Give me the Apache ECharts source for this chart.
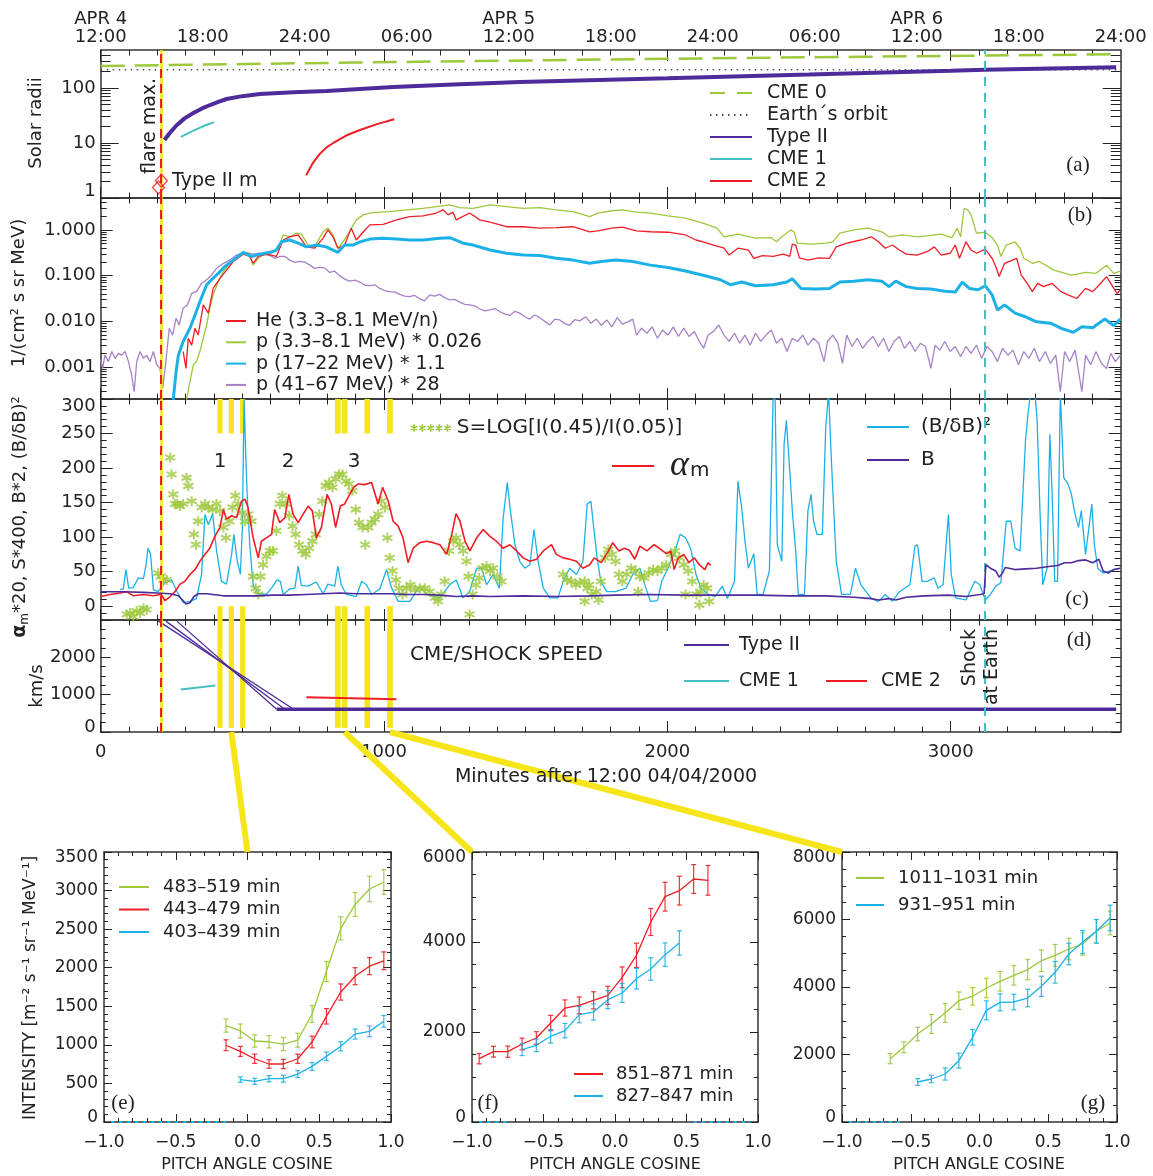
<!DOCTYPE html>
<html>
<head>
<meta charset="utf-8">
<script src="https://cdn.jsdelivr.net/npm/echarts@6/dist/echarts.min.js"></script>
<style>html,body{margin:0;background:#fff}#show{width:1153px;height:1176px}</style>
</head>
<body>
<div id="show"></div>
<script>
var myChart = echarts.init(document.getElementById('show'));

// ---------- panel (a): distance in solar radii vs minutes ----------
var cme0R = [[0, 251], [900, 290], [1800, 330], [2700, 370], [3600, 410]];
var earthR = [[0, 215], [3600, 215]];
var typeIIR = [[225, 11.3], [243, 15], [268, 21], [296, 28], [327, 35], [356, 42], [386, 49], [415, 56], [444, 63], [500, 71], [562, 78], [680, 84], [798, 88], [915, 96], [1033, 104], [1245, 116], [1480, 129], [2000, 150], [2500, 175], [3000, 205], [3121, 215], [3584, 237]];
var cme1R = [[283, 12.9], [311, 15.3], [339, 17.9], [370, 21], [400, 24]];
var cme2R = [[725, 2.6], [750, 4.4], [774, 6.4], [797, 8.3], [821, 10], [868, 13.8], [915, 17.2], [975, 22], [1036, 27]];
var typeIIm = [[214, 2.06], [204, 1.55]];

// ---------- panel (b): log10 of intensity ----------
var heLog = [[291,-2.66],[301,-3.03],[309,-2.37],[321,-2.52],[333,-2.15],[344,-2.30],[362,-1.64],[380,-1.82],[397,-1.28],[421,-1.06],[444,-0.88],[468,-0.69],[503,-0.53],[526,-0.58],[538,-0.73],[556,-0.58],[585,-0.53],[620,-0.58],[644,-0.22],[667,-0.15],[697,-0.11],[726,-0.37],[755,-0.40],[785,-0.18],[802,0.0],[820,-0.15],[837,-0.40],[861,-0.33],[884,0.04],[902,-0.22],[927,-0.04],[950,0.11],[997,0.12],[1044,0.22],[1091,0.29],[1138,0.31],[1185,0.37],[1208,0.44],[1226,0.33],[1243,0.39],[1255,0.22],[1302,0.37],[1338,0.22],[1374,0.17],[1432,0.07],[1491,0.07],[1550,0.04],[1608,0.05],[1667,0.07],[1726,-0.04],
  [1755,-0.02],[1804,0.04],[1841,0.06],[1891,-0.02],[1940,-0.04],[2002,-0.05],[2064,-0.11],[2101,-0.22],[2126,-0.26],[2163,-0.33],[2200,-0.40],[2218,-0.55],[2249,-0.40],[2286,-0.44],[2305,-0.62],[2336,-0.56],[2373,-0.58],[2410,-0.53],[2432,-0.58],[2441,-0.31],[2453,-0.33],[2466,-0.61],[2497,-0.66],[2534,-0.61],[2572,-0.62],[2596,-0.37],[2633,-0.29],[2683,-0.22],[2720,-0.15],[2745,-0.26],[2769,-0.40],[2794,-0.33],[2819,-0.44],[2843,-0.53],[2881,-0.55],[2918,-0.47],[2942,-0.37],[2967,-0.55],[2998,-0.51],[3016,-0.33],[3031,-0.62],[3054,-0.26],[3072,-0.44],[3091,-0.51],[3122,-0.42],[3146,-0.62],[3159,-0.80],[3171,-1.02],[3190,-0.73],[3233,-0.62],[3249,-0.99],[3270,-1.17],[3288,-1.35],[3307,-1.17],[3327,-1.24],[3358,-1.17],[3389,-1.35],[3414,-1.42],[3445,-1.50],[3476,-1.28],[3501,-1.35],[3525,-1.20],[3550,-1.02],[3568,-1.20],[3587,-1.39],[3599,-1.31]];
var p3Log = [[303,-3.72],[315,-3.32],[327,-2.95],[338,-2.88],[350,-2.66],[362,-2.37],[374,-2.08],[385,-1.71],[397,-1.42],[415,-1.13],[433,-0.91],[456,-0.73],[479,-0.62],[503,-0.51],[520,-0.49],[538,-0.77],[556,-0.62],[573,-0.55],[603,-0.51],[626,-0.40],[644,-0.11],[667,-0.15],[691,-0.07],[708,-0.09],[732,-0.33],[755,-0.37],[785,-0.04],[802,0.04],[820,-0.11],[837,-0.40],[855,-0.26],[878,-0.04],[902,0.22],[927,0.33],[950,0.37],[985,0.39],[1020,0.40],[1079,0.44],[1138,0.47],[1185,0.51],[1232,0.55],[1267,0.49],[1314,0.47],[1374,0.55],[1432,0.51],[1491,0.47],[1550,0.49],[1608,0.44],[1667,0.40],[1726,0.29],
  [1755,0.37],[1804,0.42],[1841,0.44],[1891,0.39],[1940,0.37],[2002,0.31],[2064,0.26],[2126,0.15],[2175,0.04],[2200,-0.15],[2249,-0.09],[2311,-0.18],[2367,-0.17],[2385,-0.26],[2404,-0.15],[2435,0.0],[2447,-0.04],[2459,-0.29],[2509,-0.31],[2559,-0.29],[2584,-0.26],[2609,-0.07],[2658,0.0],[2708,0.04],[2757,-0.04],[2782,-0.15],[2831,-0.11],[2881,-0.15],[2930,-0.12],[2967,-0.09],[3004,-0.17],[3023,0.04],[3035,-0.15],[3047,0.47],[3060,0.44],[3072,0.33],[3091,-0.07],[3122,-0.05],[3146,-0.17],[3165,-0.33],[3177,-0.58],[3196,-0.33],[3227,-0.26],[3245,-0.40],[3258,-0.62],[3288,-0.73],[3313,-0.69],[3364,-0.88],[3426,-0.99],[3476,-0.93],[3513,-0.95],[3550,-0.77],[3575,-0.95],[3599,-0.90]];
var p17Log = [[256,-3.72],[266,-3.10],[274,-2.74],[291,-2.44],[315,-2.15],[333,-1.86],[350,-1.57],[374,-1.20],[391,-1.09],[415,-0.95],[438,-0.80],[468,-0.66],[503,-0.49],[532,-0.58],[562,-0.53],[597,-0.49],[620,-0.44],[638,-0.26],[667,-0.22],[697,-0.29],[726,-0.37],[761,-0.33],[796,-0.37],[837,-0.49],[861,-0.33],[890,-0.33],[915,-0.26],[950,-0.20],[997,-0.18],[1044,-0.20],[1091,-0.22],[1138,-0.22],[1196,-0.18],[1232,-0.17],[1279,-0.29],[1314,-0.33],[1374,-0.44],[1432,-0.51],[1491,-0.55],[1550,-0.56],[1608,-0.62],[1667,-0.66],[1726,-0.73],
  [1767,-0.69],[1817,-0.66],[1878,-0.69],[1940,-0.77],[2002,-0.82],[2064,-0.90],[2126,-0.99],[2187,-1.09],[2224,-1.20],[2262,-1.14],[2311,-1.22],[2373,-1.20],[2422,-1.14],[2441,-1.07],[2472,-1.28],[2521,-1.29],[2572,-1.28],[2609,-1.14],[2658,-1.12],[2708,-1.09],[2757,-1.12],[2782,-1.24],[2806,-1.12],[2843,-1.24],[2881,-1.28],[2930,-1.29],[2979,-1.34],[3016,-1.36],[3041,-1.14],[3066,-1.28],[3097,-1.31],[3122,-1.22],[3146,-1.42],[3165,-1.75],[3190,-1.64],[3227,-1.82],[3264,-1.90],[3303,-2.01],[3352,-2.04],[3389,-2.15],[3433,-2.24],[3463,-2.12],[3501,-2.14],[3544,-1.95],[3575,-2.09],[3599,-1.95]];
var p41Log = [[0,-2.84],[7,-3.03],[15,-2.74],[27,-2.88],[39,-2.66],[51,-2.81],[63,-2.70],[74,-2.74],[86,-2.66],[98,-2.88],[109,-3.17],[118,-3.54],[127,-2.88],[139,-2.66],[151,-2.81],[162,-2.74],[174,-2.88],[186,-2.66],[198,-2.95],[209,-3.03],[219,-3.46],[230,-2.88],[242,-2.15],[254,-2.30],[266,-1.93],[277,-2.08],[291,-1.71],[306,-1.64],[321,-1.39],[338,-1.35],[356,-1.17],[374,-1.09],[391,-0.99],[409,-0.84],[433,-0.73],[456,-0.66],[479,-0.55],[509,-0.49],[538,-0.53],[562,-0.51],[597,-0.56],[615,-0.62],[632,-0.58],[650,-0.58],[667,-0.66],[685,-0.71],[702,-0.69],[720,-0.70],[738,-0.77],[755,-0.84],[773,-0.82],[790,-0.83],[808,-0.93],[825,-0.90],[843,-1.00],[860,-1.07],[878,-1.12],[897,-1.10],[915,-1.14],[932,-1.21],[950,-1.22],[967,-1.20],[985,-1.28],[1003,-1.33],[1020,-1.35],[1038,-1.36],[1056,-1.41],[1073,-1.45],[1091,-1.46],[1108,-1.43],[1126,-1.51],[1143,-1.55],[1161,-1.42],[1178,-1.45],[1196,-1.41],[1214,-1.48],[1232,-1.53],[1249,-1.52],[1267,-1.58],[1285,-1.63],[1302,-1.64],[1320,-1.66],[1338,-1.73],[1356,-1.77],[1374,-1.75],[1391,-1.72],[1409,-1.79],[1427,-1.84],[1444,-1.87],[1462,-1.78],[1479,-1.82],[1497,-1.90],[1514,-1.95],[1532,-1.86],[1550,-1.92],[1567,-2.00],[1585,-2.08],[1603,-1.95],[1620,-1.97],[1638,-2.05],[1655,-2.09],[1673,-1.96],[1691,-1.99],
  [1712,-1.90],[1730,-2.04],[1749,-1.95],[1767,-2.09],[1786,-1.97],[1804,-2.12],[1823,-1.92],[1841,-2.06],[1860,-2.01],[1878,-1.95],[1891,-2.30],[1909,-2.15],[1928,-2.26],[1946,-2.12],[1965,-2.37],[1983,-2.19],[2002,-2.30],[2021,-2.12],[2039,-2.33],[2058,-2.15],[2076,-2.33],[2095,-2.22],[2113,-2.44],[2128,-2.59],[2144,-2.30],[2163,-2.22],[2181,-2.08],[2200,-2.30],[2218,-2.44],[2237,-2.26],[2255,-2.48],[2274,-2.30],[2292,-2.52],[2311,-2.26],[2330,-2.44],[2348,-2.30],[2367,-2.19],[2385,-2.48],[2404,-2.37],[2422,-2.66],[2441,-2.37],[2459,-2.44],[2478,-2.30],[2496,-2.52],[2516,-2.37],[2534,-2.48],[2553,-2.88],[2565,-2.44],[2584,-2.30],[2602,-2.48],[2618,-2.92],[2633,-2.30],[2652,-2.55],[2670,-2.37],[2689,-2.59],[2708,-2.44],[2726,-2.33],[2745,-2.55],[2763,-2.37],[2782,-2.66],[2800,-2.44],[2819,-2.33],[2837,-2.59],[2856,-2.44],[2874,-2.66],[2893,-2.48],[2911,-2.55],[2930,-3.03],[2945,-2.52],[2961,-2.63],[2979,-2.44],[2998,-2.66],[3016,-2.55],[3035,-2.77],[3054,-2.55],[3072,-2.70],[3091,-2.52],[3109,-2.81],[3128,-2.55],[3146,-2.66],[3165,-2.88],[3183,-2.59],[3202,-2.74],[3220,-2.63],[3239,-2.95],[3258,-2.66],[3276,-2.81],[3295,-2.59],[3313,-2.88],[3334,-2.66],[3352,-2.92],[3371,-2.74],[3387,-3.54],[3402,-2.66],[3420,-2.88],[3439,-2.63],[3463,-3.54],[3476,-2.74],[3494,-2.95],[3513,-2.66],[3532,-2.92],[3550,-3.03],[3565,-2.70],[3581,-2.88],[3599,-2.74]];

// ---------- panel (c) ----------
var alphaM = [[0,14],[33,17],[68,19],[92,21],[115,15],[151,17],[186,15],[213,17],[227,8],[245,14],[262,21],[280,32],[297,36],[315,46],[333,53],[350,65],[368,75],[385,84],[403,101],[421,114],[433,140],[444,126],[462,131],[479,128],[497,152],[509,155],[520,143],[538,99],[556,70],[567,94],[585,99],[603,104],[614,140],[632,121],[650,128],[664,162],[679,133],[697,121],[714,133],[732,145],[747,138],[761,99],[779,114],[799,162],[814,148],[829,114],[846,145],[861,148],[879,162],[893,172],[909,177],[932,176],[956,179],[979,148],[995,172],[1015,152],[1032,123],[1050,116],[1067,99],[1085,63],[1103,84],[1126,92],[1150,94],[1174,92],[1197,89],[1221,75],[1239,104],[1254,134],[1268,123],[1286,94],[1303,80],[1327,99],[1350,111],[1374,101],[1397,94],[1420,84],[1444,89],[1468,80],[1491,70],[1515,65],[1538,68],[1562,80],[1591,89],[1608,75],[1632,70],[1655,68],[1679,65],[1702,55],[1726,60],[1742,70],[1767,63],[1792,80],[1807,92],[1829,80],[1848,84],[1866,81],[1885,68],[1903,87],[1928,80],[1953,89],[1971,84],[1996,76],[2012,80],[2024,53],[2039,70],[2058,75],[2076,63],[2095,70],[2113,60],[2132,53],[2144,63],[2153,59]];
var sRatio = [[92,-12],[104,-10],[115,-15],[127,-7],[139,-10],[151,-3],[162,-5],[203,48],[212,43],[221,38],[233,38],[245,215],[250,191],[256,162],[262,148],[270,148],[280,145],[291,148],[303,186],[309,174],[321,152],[329,104],[336,89],[344,123],[356,143],[368,148],[380,143],[395,140],[409,148],[421,138],[433,114],[442,99],[454,123],[465,143],[475,160],[485,148],[497,135],[509,123],[520,133],[532,123],[538,43],[547,26],[556,17],[564,43],[573,60],[585,72],[597,80],[608,80],[620,109],[632,148],[641,160],[653,148],[665,131],[677,116],[688,104],[700,89],[712,80],[724,75],[735,84],[747,94],[759,104],[771,133],[782,152],[794,174],[806,179],[818,172],[829,184],[841,191],[853,191],[865,181],[876,177],[888,167],[900,140],[912,121],[924,114],[934,89],[944,114],[956,121],[968,126],[979,133],[991,152],[1003,143],[1012,99],[1020,70],[1030,51],[1042,38],[1053,26],[1065,17],[1079,26],[1093,31],[1109,24],[1126,26],[1144,26],[1161,21],[1179,12],[1191,7],[1202,17],[1214,36],[1229,80],[1244,94],[1255,99],[1267,89],[1279,80],[1291,65],[1298,43],[1302,-12],[1313,17],[1324,31],[1336,41],[1348,55],[1362,58],[1374,51],[1385,55],[1400,43],[1415,36],[1632,46],[1646,38],[1661,36],[1677,31],[1691,34],[1708,36],[1724,31],
  [1708,7],[1718,26],[1733,17],[1749,21],[1757,9],[1765,36],[1780,70],[1792,82],[1804,75],[1817,65],[1829,46],[1841,36],[1856,46],[1872,55],[1888,51],[1897,21],[1903,43],[1918,41],[1934,48],[1950,53],[1965,51],[1980,55],[1996,60],[2012,75],[2027,80],[2042,70],[2058,60],[2064,17],[2074,51],[2088,36],[2103,17],[2113,2],[2116,21],[2128,31],[2140,26],[2148,7]];
var bRatio = [[68,24],[80,25],[89,53],[99,26],[115,27],[133,41],[151,40],[160,60],[167,84],[176,75],[186,24],[203,21],[227,34],[250,38],[270,21],[291,5],[315,7],[338,11],[356,46],[368,133],[380,118],[395,134],[409,80],[426,36],[444,32],[462,75],[470,104],[482,65],[493,46],[500,114],[506,300],[511,230],[517,162],[526,89],[538,31],[556,18],[585,17],[608,29],[622,38],[634,36],[644,17],[667,25],[685,26],[697,58],[708,30],[732,29],[761,35],[785,18],[802,32],[826,29],[837,58],[849,31],[867,17],[902,14],[921,36],[938,31],[956,17],[985,25],[1009,53],[1026,27],[1050,7],[1091,7],[1126,29],[1150,17],[1196,12],[1232,31],[1255,38],[1279,12],[1302,21],[1327,55],[1344,55],[1362,31],[1385,46],[1407,26],[1420,126],[1435,179],[1446,138],[1462,89],[1479,65],[1497,55],[1515,60],[1529,111],[1544,65],[1562,26],[1585,12],[1614,12],[1632,36],[1655,55],[1679,46],[1702,65],[1717,148],
  [1730,152],[1740,114],[1752,70],[1765,36],[1786,21],[1817,21],[1854,26],[1878,46],[1903,55],[1922,29],[1940,7],[1965,8],[1980,36],[2002,55],[2027,80],[2045,104],[2064,99],[2082,84],[2101,46],[2119,26],[2144,17],[2169,14],[2194,29],[2212,11],[2237,36],[2249,181],[2262,143],[2274,94],[2286,55],[2305,76],[2317,17],[2338,17],[2360,51],[2373,298],[2380,310],[2388,89],[2404,65],[2412,235],[2420,269],[2432,196],[2441,138],[2453,80],[2462,17],[2484,17],[2496,138],[2507,162],[2516,123],[2528,104],[2547,104],[2559,259],[2569,310],[2579,210],[2596,65],[2615,17],[2646,17],[2664,55],[2683,31],[2701,21],[2720,11],[2745,7],[2769,17],[2794,7],[2819,21],[2856,31],[2874,87],[2883,89],[2899,36],[2918,36],[2942,41],[2955,26],[2973,31],[2992,133],[3002,46],[3017,12],[3054,9],[3085,36],[3103,31],[3122,9],[3140,17],[3159,29],[3177,34],[3196,123],[3212,123],[3227,84],[3245,80],[3264,240],[3274,283],[3282,310],[3297,310],[3305,269],[3315,138],[3325,31],[3340,55],[3350,249],[3358,162],[3367,36],[3377,36],[3387,310],[3399,186],[3414,177],[3426,162],[3439,133],[3451,114],[3461,138],[3476,75],[3498,148],[3507,89],[3519,55],[3538,48],[3562,51],[3599,55]];
var bField = [[0,21],[80,21],[151,20],[198,19],[245,18],[274,15],[289,9],[301,3],[315,5],[329,14],[344,18],[374,18],[433,15],[491,15],[550,15],[608,16],[667,16],[726,17],[785,18],[843,19],[903,18],[962,18],[1020,18],[1079,17],[1138,17],[1196,16],[1255,14],[1315,15],[1374,14],[1491,15],[1608,14],[1726,15],[1817,16],[1940,17],[2064,16],[2187,16],[2311,16],[2435,15],[2559,15],[2658,13],[2720,11],[2745,9],[2782,11],[2806,9],[2843,13],[2905,15],[2992,16],[3054,14],[3103,17],[3118,18],[3124,60],[3140,55],[3159,51],[3171,42],[3183,48],[3192,56],[3227,53],[3264,54],[3303,55],[3340,57],[3377,59],[3402,63],[3426,63],[3451,66],[3476,67],[3501,63],[3523,68],[3538,51],[3556,48],[3575,53],[3599,55]];

// ---------- panel (d): speeds, km/s ----------
var typeIIfit1 = [[204, 2970], [681, 610]];
var typeIIfit2 = [[230, 2970], [650, 610]];
var typeIIfit3 = [[269, 2970], [621, 610]];
var typeIIV = [[621, 610], [3584, 610]];
var cme1V = [[282, 1140], [405, 1247]];
var cme2V = [[726, 928], [1044, 875]];

// events and pitch-angle sampling windows (minutes)
var flareT = 212, shockT = 3121;
var windows = [[412, 430], [452, 470], [492, 510], [827, 847], [851, 871], [931, 951], [1011, 1031]];

// ---------- panels (e)-(g): [pitch cosine, intensity, error] ----------
var e483 = [[-0.15,1250,85],[-0.05,1180,90],[0.05,1050,80],[0.15,1040,80],[0.25,1010,85],[0.35,1060,90],[0.45,1400,110],[0.55,1950,130],[0.65,2510,150],[0.75,2820,155],[0.85,3020,165],[0.95,3110,160]];
var e443 = [[-0.15,995,70],[-0.05,915,65],[0.05,820,60],[0.15,752,55],[0.25,752,60],[0.35,820,60],[0.45,1037,75],[0.55,1370,100],[0.65,1685,105],[0.75,1890,110],[0.85,2020,110],[0.95,2090,115]];
var e403 = [[-0.05,550,35],[0.05,527,40],[0.15,562,40],[0.25,562,45],[0.35,622,45],[0.45,721,50],[0.55,851,55],[0.65,981,60],[0.75,1140,65],[0.85,1175,70],[0.95,1305,75]];
var f851 = [[-0.95,1407,115],[-0.85,1563,120],[-0.75,1563,125],[-0.65,1733,130],[-0.55,1867,140],[-0.45,2200,170],[-0.35,2533,180],[-0.25,2593,185],[-0.15,2704,190],[-0.05,2815,200],[0.05,3215,230],[0.15,3704,270],[0.25,4444,300],[0.35,5007,320],[0.45,5141,320],[0.55,5400,320],[0.65,5370,330]];
var f827 = [[-0.65,1607,130],[-0.55,1704,140],[-0.45,1904,150],[-0.35,2030,160],[-0.25,2385,180],[-0.15,2444,180],[-0.05,2719,200],[0.05,2867,210],[0.15,3185,230],[0.25,3400,250],[0.35,3719,260],[0.45,3978,270]];
var g1011 = [[-0.65,1877,150],[-0.55,2212,160],[-0.45,2607,200],[-0.35,2904,280],[-0.25,3230,280],[-0.15,3595,260],[-0.05,3724,260],[0.05,3970,290],[0.15,4168,290],[0.25,4346,290],[0.35,4514,300],[0.45,4780,320],[0.55,4939,320],[0.65,5126,320],[0.75,5274,330],[0.85,5650,350],[0.95,5897,350]];
var g931 = [[-0.45,1185,100],[-0.35,1274,110],[-0.25,1422,180],[-0.15,1817,220],[-0.05,2509,230],[0.05,3309,280],[0.15,3546,250],[0.25,3556,230],[0.35,3674,260],[0.45,4020,300],[0.55,4435,320],[0.65,4978,320],[0.75,5333,340],[0.85,5650,350],[0.95,6045,380]];
// bins where the 17-22 MeV channel reads zero
var eZeroBins = [-0.95, -0.85, -0.75, -0.65, -0.55, -0.45, -0.35, -0.25, -0.15];
var fZeroBinsA = [-0.95, -0.85, -0.75];
var fZeroBinsB = [0.55, 0.65, 0.75, 0.85, 0.95];
var gZeroBins = [-0.95, -0.85, -0.75, -0.65, -0.55];

// tick labels
var timeLabels = ['APR 4\n12:00', '18:00', '24:00', '06:00', 'APR 5\n12:00', '18:00', '24:00', '06:00', 'APR 6\n12:00', '18:00', '24:00'];
var radiiLabels = ['1', '10', '100'];
var fluxLabels = ['0.001', '0.010', '0.100', '1.000'];

var INK = '#222', FONT = 'DejaVu Sans';
var GREEN = '#9dc83c', RED = '#ee1d25', BLUE = '#1cb1e6', LPURP = '#a683c6', DPURP = '#4e2b9a', TEAL = '#44c0c0', YEL = '#f6e51b';

var xAxes = [], yAxes = [];
function blank(g, pos, min, max, type) {
    return {type: type || 'value', gridIndex: g, position: pos, min: min, max: max, offset: 0, silent: true,
        axisLine: {show: false, onZero: false}, axisTick: {show: false}, axisLabel: {show: false}, splitLine: {show: false}};
}
function tickAx(g, pos, min, max, vals, len, edge) {
    var a = blank(g, pos, min, max);
    a.axisTick = {show: true, inside: true, length: len, customValues: vals, lineStyle: {color: INK, width: 1}};
    if (edge) a.axisLine = {show: true, onZero: false, lineStyle: {color: '#333', width: 1.5}};
    return a;
}
function range(a, b, step) {
    var out = [], n = Math.round((b - a) / step);
    for (var i = 0; i <= n; i++) out.push(Math.round((a + i * step) * 1e6) / 1e6);
    return out;
}
function without(list, drop) {
    return list.filter(function (v) { return drop.every(function (d) { return Math.abs(d - v) > 1e-6; }); });
}
function logMinor(lo, hi) {
    var out = [];
    for (var n = -5; n <= 3; n++) for (var k = 2; k <= 9; k++) {
        var v = Math.log10(k * Math.pow(10, n));
        if (v > lo && v < hi) out.push(v);
    }
    return out;
}
function frame(g, xr, yr, t) {
    var ix = {};
    var ml = t.minorLen || 0.5;
    ix.xb = xAxes.push(tickAx(g, 'bottom', xr[0], xr[1], t.xMaj, t.xLen, true)) - 1;
    xAxes.push(tickAx(g, 'bottom', xr[0], xr[1], t.xMin, t.xLen * 0.5));
    ix.xt = xAxes.push(tickAx(g, 'top', xr[0], xr[1], t.xMaj, t.xLen, true)) - 1;
    xAxes.push(tickAx(g, 'top', xr[0], xr[1], t.xMin, t.xLen * 0.5));
    ix.yl = yAxes.push(tickAx(g, 'left', yr[0], yr[1], t.yMaj, t.yLen, true)) - 1;
    yAxes.push(tickAx(g, 'left', yr[0], yr[1], t.yMin, t.yLen * ml));
    yAxes.push(tickAx(g, 'right', yr[0], yr[1], t.yMaj, t.yLen, true));
    yAxes.push(tickAx(g, 'right', yr[0], yr[1], t.yMin, t.yLen * ml));
    return ix;
}
// labels; "shift" nudges the edge labels vertically (px, + is down) like the original plot
function labels(ax, vals, fmt, margin, extra, shift) {
    shift = shift || {};
    var rich = {};
    Object.keys(shift).forEach(function (k) {
        var d = shift[k];
        rich['s' + Math.abs(d) + (d > 0 ? 'd' : 'u')] = {padding: d > 0 ? [2 * d, 0, 0, 0] : [0, 0, -2 * d, 0]};
    });
    ax.axisLabel = Object.assign({show: true, customValues: vals, margin: margin,
        fontFamily: FONT, fontSize: 18, color: INK, rich: rich,
        formatter: function (v) {
            var s = fmt ? fmt(v) : String(v);
            var d = shift[String(v)];
            return d ? '{s' + Math.abs(d) + (d > 0 ? 'd' : 'u') + '|' + s + '}' : s;
        }}, extra || {});
}
function dataAxes(g, xr, yr, ytype) {
    var xi = xAxes.push(blank(g, 'bottom', xr[0], xr[1])) - 1;
    var yi = yAxes.push(blank(g, 'left', yr[0], yr[1], ytype)) - 1;
    return [xi, yi];
}

var L = 100.7, W = 1020;
var grids = [
    {left: L, top: 50, width: W, height: 148},
    {left: L, top: 198, width: W, height: 201},
    {left: L, top: 399, width: W, height: 221},
    {left: L, top: 620, width: W, height: 112},
    {left: 104, top: 852, width: 287, height: 270},
    {left: 472, top: 852, width: 286, height: 270},
    {left: 842, top: 852, width: 275, height: 270}
];

var T = [0, 3600];
var tMaj = [0, 1000, 2000, 3000];
var tMin = without(range(0, 3500, 100), tMaj);
var aMax = 490, bMin = 2e-4, bMax = 5;
var aR = [0, Math.log10(aMax)], bR = [Math.log10(bMin), Math.log10(bMax)];

var fa = frame(0, T, aR, {xMaj: tMaj, xMin: tMin, xLen: 11, yMaj: [0, 1, 2], yMin: logMinor(aR[0], aR[1]), yLen: 18, minorLen: 0.55});
labels(yAxes[fa.yl], [0, 1, 2], function (v) { return radiiLabels[Math.round(v)]; }, 5, null, {'0': -7});
labels(xAxes[fa.xt], range(0, 3600, 360), function (v) { return timeLabels[Math.round(v / 360)]; }, 4, {lineHeight: 18});
var fb = frame(1, T, bR, {xMaj: tMaj, xMin: tMin, xLen: 11, yMaj: [-3, -2, -1, 0], yMin: logMinor(bR[0], bR[1]), yLen: 12});
labels(yAxes[fb.yl], [-3, -2, -1, 0], function (v) { return fluxLabels[Math.round(v) + 3]; }, 5);
var cMaj = range(0, 300, 50);
var fc = frame(2, T, [-20, 300], {xMaj: tMaj, xMin: tMin, xLen: 11, yMaj: cMaj, yMin: without(range(-20, 300, 10), cMaj), yLen: 12});
labels(yAxes[fc.yl], cMaj, null, 5, null, {'300': 7});
var dMaj = [0, 1000, 2000, 3000];
var fd = frame(3, T, [0, 3000], {xMaj: tMaj, xMin: tMin, xLen: 11, yMaj: dMaj, yMin: without(range(0, 3000, 250), dMaj), yLen: 10});
labels(yAxes[fd.yl], [0, 1000, 2000], null, 5, null, {'0': -5});
labels(xAxes[fd.xb], tMaj, null, 11);

var pMaj = range(-1, 1, 0.5), pMin = without(range(-1, 1, 0.1), pMaj);
function cosFmt(v) { return (v < 0 ? '\u2212' : '') + Math.abs(v).toFixed(1); }
var pitchFrames = [[4, 3500, 500, 100], [5, 6000, 2000, 500], [6, 8000, 2000, 500]].map(function (p) {
    var yMaj = range(0, p[1], p[2]);
    var f = frame(p[0], [-1, 1], [0, p[1]], {xMaj: pMaj, xMin: pMin, xLen: 8, yMaj: yMaj, yMin: without(range(0, p[1], p[3]), yMaj), yLen: 8});
    var sh = {'0': -4};
    sh[String(p[1])] = 6;
    labels(yAxes[f.yl], yMaj, null, 6, {fontSize: 17}, sh);
    labels(xAxes[f.xb], pMaj, cosFmt, 12, {fontSize: 17});
    return f;
});

var axA = dataAxes(0, T, [1, aMax], 'log');
var axB = dataAxes(1, T, [bMin, bMax], 'log');
var axC = dataAxes(2, T, [-20, 300]);
var axD = dataAxes(3, T, [0, 3000]);
var axE = dataAxes(4, [-1, 1], [0, 3500]);
var axF = dataAxes(5, [-1, 1], [0, 6000]);
var axG = dataAxes(6, [-1, 1], [0, 8000]);

function line(name, data, ax, color, width, extra) {
    return Object.assign({name: name, type: 'line', xAxisIndex: ax[0], yAxisIndex: ax[1], data: data,
        symbol: 'none', silent: true, lineStyle: {color: color, width: width}, itemStyle: {color: color}, z: 3}, extra || {});
}
function eventMarks(withShock) {
    var d = [
        {xAxis: flareT, lineStyle: {color: YEL, width: 2.5, type: 'solid'}},
        {xAxis: flareT, lineStyle: {color: RED, width: 2, type: [9, 6]}}
    ];
    if (withShock) d.push({xAxis: shockT, lineStyle: {color: TEAL, width: 2, type: [9, 7]}});
    return {symbol: 'none', silent: true, animation: false, label: {show: false}, data: d};
}
function lin(logs) { return logs.map(function (p) { return [p[0], Math.pow(10, p[1])]; }); }
function bars(ax, spans) {
    return {type: 'custom', xAxisIndex: ax[0], yAxisIndex: ax[1], data: windows, silent: true, z: 1,
        renderItem: function (params, api) {
            var t0 = api.value(0), t1 = api.value(1);
            return {type: 'group', children: spans.map(function (s) {
                var a = api.coord([t0, s[1]]), b = api.coord([t1, s[0]]);
                return {type: 'rect', shape: {x: a[0], y: a[1], width: b[0] - a[0], height: b[1] - a[1]}, style: {fill: YEL}};
            })};
        }};
}
function errorBars(data, ax, color) {
    return {type: 'custom', xAxisIndex: ax[0], yAxisIndex: ax[1], data: data, silent: true, z: 4,
        renderItem: function (params, api) {
            var x = api.value(0), y = api.value(1), e = api.value(2);
            var hi = api.coord([x, y + e]), lo = api.coord([x, y - e]), w = 2.5;
            var st = {stroke: color, lineWidth: 1.2, opacity: 0.9};
            return {type: 'group', children: [
                {type: 'line', shape: {x1: hi[0], y1: hi[1], x2: lo[0], y2: lo[1]}, style: st},
                {type: 'line', shape: {x1: hi[0] - w, y1: hi[1], x2: hi[0] + w, y2: hi[1]}, style: st},
                {type: 'line', shape: {x1: lo[0] - w, y1: lo[1], x2: lo[0] + w, y2: lo[1]}, style: st}
            ]};
        }};
}
function pitch(name, data, ax, color) {
    return [line(name, data.map(function (d) { return [d[0], d[1]]; }), ax, color, 1.3), errorBars(data, ax, color)];
}
function zeros(bins, ax) {
    return line(null, bins.map(function (b) { return [b, 0]; }), ax, BLUE, 2, {lineStyle: {color: BLUE, width: 2, type: [3, 5]}, z: 6});
}

var starPath = 'M5 0L5 10M0.7 2.5L9.3 7.5M0.7 7.5L9.3 2.5';
var starIcon = 'path://' + [0, 11, 22, 33, 44].map(function (o) {
    return 'M' + (5 + o) + ' 0L' + (5 + o) + ' 10M' + (0.7 + o) + ' 2.5L' + (9.3 + o) + ' 7.5M' + (0.7 + o) + ' 7.5L' + (9.3 + o) + ' 2.5';
}).join('');
var S_NAME = 'S=LOG[I(0.45)/I(0.05)]';

var series = [
    // (a)
    line('CME 0', cme0R, axA, GREEN, 2.5, {lineStyle: {color: GREEN, width: 2.5, type: [24, 10]}}),
    line('Earth\u00b4s orbit', earthR, axA, '#555', 1.5, {lineStyle: {color: '#555', width: 1.5, type: [1.5, 4.5]}, markLine: eventMarks(true)}),
    line('Type II', typeIIR, axA, DPURP, 4),
    line('CME 1', cme1R, axA, TEAL, 2),
    line('CME 2', cme2R, axA, RED, 2),
    {type: 'scatter', xAxisIndex: axA[0], yAxisIndex: axA[1], data: typeIIm, symbol: 'diamond', symbolSize: [12, 13], silent: true,
        itemStyle: {color: 'rgba(255,255,255,0)', borderColor: RED, borderWidth: 1.4}, z: 6},
    // (b)
    line('p (41\u201367 MeV) * 28', lin(p41Log), axB, LPURP, 1.3, {markLine: eventMarks(true)}),
    line('p (3.3\u20138.1 MeV) * 0.026', lin(p3Log), axB, GREEN, 1.3),
    line('He (3.3\u20138.1 MeV/n)', lin(heLog), axB, RED, 1.3),
    line('p (17\u201322 MeV) * 1.1', lin(p17Log), axB, BLUE, 3),
    // (c)
    bars(axC, [[250, 300], [-20, 0]]),
    line('(B/\u03b4B)\u00b2', bRatio, axC, BLUE, 1.3),
    {name: S_NAME, type: 'scatter', xAxisIndex: axC[0], yAxisIndex: axC[1], data: sRatio, symbol: 'path://' + starPath, symbolSize: 10, silent: true,
        itemStyle: {color: GREEN, borderColor: GREEN, borderWidth: 2}, z: 4},
    line('\u03b1m', alphaM, axC, RED, 1.6, {z: 5}),
    line('B', bField, axC, DPURP, 1.6, {z: 5, markLine: eventMarks(true)}),
    // (d)
    bars(axD, [[110, 3000]]),
    line(null, typeIIfit1, axD, DPURP, 1.3),
    line(null, typeIIfit2, axD, DPURP, 1.3),
    line(null, typeIIfit3, axD, DPURP, 1.3),
    line(null, typeIIV, axD, DPURP, 3.5, {markLine: eventMarks(true)}),
    line(null, cme1V, axD, TEAL, 2),
    line(null, cme2V, axD, RED, 2),
    // (e)-(g)
    zeros(eZeroBins, axE), zeros(fZeroBinsA, axF), zeros(fZeroBinsB, axF), zeros(gZeroBins, axG)
].concat(
    pitch('483\u2013519 min', e483, axE, GREEN), pitch('443\u2013479 min', e443, axE, RED), pitch('403\u2013439 min', e403, axE, BLUE),
    pitch('851\u2013871 min', f851, axF, RED), pitch('827\u2013847 min', f827, axF, BLUE),
    pitch('1011\u20131031 min', g1011, axG, GREEN), pitch('931\u2013951 min', g931, axG, BLUE)
);

function legend(names, left, top, o) {
    var base = {show: true, data: names, left: left, top: top, orient: 'vertical', selectedMode: false, padding: 0,
        itemGap: 2, itemWidth: 42, itemHeight: 12, itemStyle: {opacity: 0},
        textStyle: {fontFamily: FONT, fontSize: 19, color: INK, lineHeight: 20, padding: [0, 0, 0, 10]}};
    o = o || {};
    if (o.textStyle) { o.textStyle = Object.assign({}, base.textStyle, o.textStyle); }
    return Object.assign(base, o);
}

var legends = [
    legend([{name: 'CME 0', lineStyle: {type: [15, 12]}}, 'Earth\u00b4s orbit', 'Type II', 'CME 1', 'CME 2'], 709, 83),
    legend(['He (3.3\u20138.1 MeV/n)', 'p (3.3\u20138.1 MeV) * 0.026', 'p (17\u201322 MeV) * 1.1', 'p (41\u201367 MeV) * 28'], 225, 311,
        {itemWidth: 20, itemGap: 1.3, textStyle: {padding: [0, 0, 0, 5]}}),
    legend([{name: S_NAME, icon: starIcon, itemStyle: {opacity: 1, color: GREEN, borderColor: GREEN, borderWidth: 1.6}}], 410, 418,
        {itemWidth: 40, itemHeight: 8, itemStyle: {opacity: 1}, textStyle: {fontSize: 20, padding: [0, 0, 0, 1]}}),
    legend(['\u03b1m'], 611, 448, {textStyle: {lineHeight: 30, padding: [0, 0, 0, 11],
        rich: {al: {fontFamily: 'Liberation Serif', fontStyle: 'italic', fontSize: 36, lineHeight: 30},
               sub: {fontFamily: FONT, fontSize: 20, lineHeight: 30, padding: [10, 0, 0, 1]}}},
        formatter: function () { return '{al|\u03b1}{sub|m}'; }}),
    legend(['(B/\u03b4B)\u00b2', 'B'], 866, 417, {itemGap: 13, textStyle: {fontSize: 20, padding: [0, 0, 0, 7]}}),
    legend(['Type II', 'CME 1'], 683, 635, {itemWidth: 45, itemGap: 16, textStyle: {padding: [0, 0, 0, 5]}}),
    legend(['CME 2'], 825, 671, {itemWidth: 41, textStyle: {padding: [0, 0, 0, 9]}}),
    legend(['483\u2013519 min', '443\u2013479 min', '403\u2013439 min'], 118, 877, {itemWidth: 30, itemGap: 2.5, textStyle: {fontSize: 18, padding: [0, 0, 0, 9]}}),
    legend(['851\u2013871 min', '827\u2013847 min'], 573, 1064, {itemWidth: 29, itemGap: 2, textStyle: {fontSize: 18, padding: [0, 0, 0, 8]}}),
    legend(['1011\u20131031 min', '931\u2013951 min'], 855, 868, {itemWidth: 28, itemGap: 7, textStyle: {fontSize: 18, padding: [0, 0, 0, 9]}})
];

myChart.setOption({
    animation: false,
    textStyle: {fontFamily: FONT},
    grid: grids,
    xAxis: xAxes,
    yAxis: yAxes,
    legend: legends,
    series: series
});

// ---------- annotations ----------
function text(x, y, str, o) {
    o = o || {};
    var al = o.align || 'left';
    return {type: 'text', x: x, y: y, rotation: o.rot || 0, silent: true, z: 50,
        style: {text: str, fill: INK, font: (o.size || 19) + 'px ' + (o.family || '"DejaVu Sans"'),
            align: al, textAlign: al, verticalAlign: 'middle', textVerticalAlign: 'middle', rich: o.rich}};
}
var UP = Math.PI / 2;
var SERIF = '"Liberation Serif"';
var graphics = [
    text(150, 126, 'flare max.', {rot: UP, align: 'center'}),
    text(172, 181, 'Type II m'),
    text(1078, 165, '(a)', {family: SERIF, size: 21, align: 'center'}),
    text(1080, 215, '(b)', {family: SERIF, size: 21, align: 'center'}),
    text(1077, 599, '(c)', {family: SERIF, size: 21, align: 'center'}),
    text(1079, 640, '(d)', {family: SERIF, size: 21, align: 'center'}),
    text(123, 1103, '(e)', {family: SERIF, size: 21, align: 'center'}),
    text(488, 1103, '(f)', {family: SERIF, size: 21, align: 'center'}),
    text(1093, 1103, '(g)', {family: SERIF, size: 21, align: 'center'}),
    text(220, 462, '1', {size: 20, align: 'center'}),
    text(288, 462, '2', {size: 20, align: 'center'}),
    text(354, 462, '3', {size: 20, align: 'center'}),
    text(410, 655, 'CME/SHOCK SPEED', {size: 20}),
    text(970, 629, 'Shock', {rot: UP, align: 'right'}),
    text(992, 629, 'at Earth', {rot: UP, align: 'right'}),
    text(36, 123, 'Solar radii', {rot: UP, align: 'center', size: 18}),
    text(19, 293, '1/(cm\u00b2 s sr MeV)', {rot: UP, align: 'center', size: 18}),
    text(20, 517, '{a|\u03b1}{s|m}*20, S*400, B*2, (B/\u03b4B)\u00b2', {rot: UP, align: 'center', size: 18,
        rich: {a: {fontFamily: FONT, fontWeight: 'bold', fontSize: 19}, s: {fontFamily: FONT, fontSize: 12, padding: [9, 0, 0, 0]}}}),
    text(37, 686, 'km/s', {rot: UP, align: 'center', size: 18}),
    text(606, 777, 'Minutes after 12:00 04/04/2000', {align: 'center'}),
    text(31, 988, 'INTENSITY [m\u207b\u00b2 s\u207b\u00b9 sr\u207b\u00b9 MeV\u207b\u00b9]', {rot: UP, align: 'center', size: 17}),
    text(247, 1165, 'PITCH ANGLE COSINE', {align: 'center', size: 16}),
    text(615, 1165, 'PITCH ANGLE COSINE', {align: 'center', size: 16}),
    text(979, 1165, 'PITCH ANGLE COSINE', {align: 'center', size: 16})
];

// yellow connectors from the sampling windows in (d) to the pitch-angle panels
function px(ax, pt) { return myChart.convertToPixel({xAxisIndex: ax[0], yAxisIndex: ax[1]}, pt); }
var links = [
    [461, axE, [0, 3500]],
    [861, axF, [-1, 6000]],
    [1021, axG, [-1, 8000]]
];
links.forEach(function (k) {
    var a = px(axD, [k[0], 0]), b = px(k[1], k[2]);
    graphics.push({type: 'line', silent: true, z: 40, shape: {x1: a[0], y1: a[1], x2: b[0], y2: b[1]},
        style: {stroke: YEL, lineWidth: 6, lineCap: 'butt'}});
});

myChart.setOption({graphic: graphics});
</script>
</body>
</html>
